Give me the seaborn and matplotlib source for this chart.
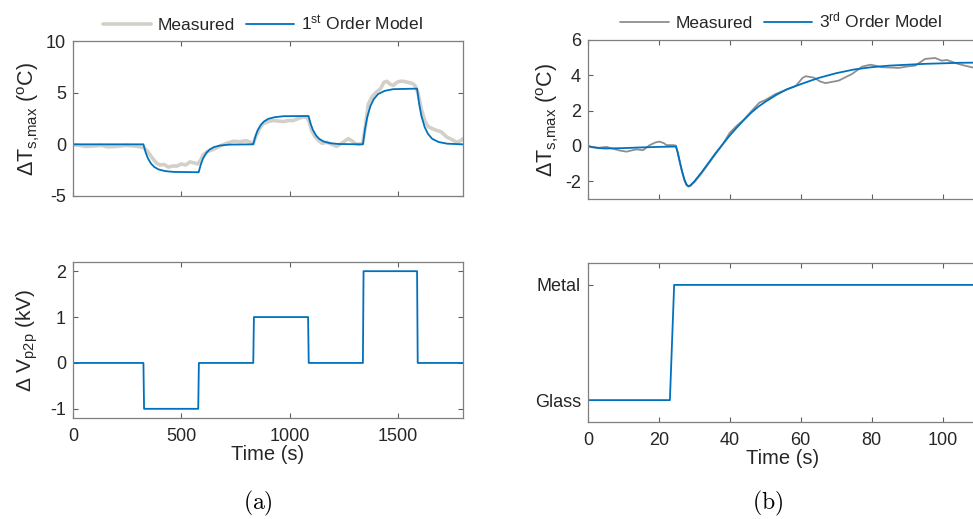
import numpy as np
import pandas as pd
import matplotlib
matplotlib.use("Agg")
import matplotlib.pyplot as plt
import seaborn as sns

# (a) step test: measured surface temperature change vs 1st order model
t_meas_a = [0, 30, 60, 100, 130, 160, 200, 240, 280, 310, 325, 345, 365, 385, 400, 420, 440, 460,
            480, 500, 520, 540, 560, 575, 590, 600, 620, 647, 680, 709, 740, 770, 800, 817, 832,
            845, 860, 878, 900, 924, 950, 971, 995, 1017, 1040, 1063, 1080, 1090, 1101, 1115,
            1132, 1150, 1171, 1195, 1217, 1240, 1260, 1271, 1290, 1302, 1320, 1337, 1350, 1363,
            1380, 1400, 1420, 1435, 1448, 1465, 1478, 1495, 1510, 1525, 1545, 1565, 1578, 1592,
            1600, 1609, 1625, 1640, 1660, 1678, 1700, 1725, 1750, 1771, 1785, 1800]
dT_meas_a = [-0.05, -0.1, -0.2, -0.15, -0.1, -0.25, -0.2, -0.1, -0.15, -0.25, -0.3, -0.7, -1.3,
             -1.8, -2.0, -1.95, -2.2, -2.1, -2.1, -1.9, -2.0, -1.7, -1.8, -1.9, -1.5, -1.05, -0.7,
             -0.5, -0.15, 0.1, 0.3, 0.25, 0.35, 0.2, 0.1, 0.8, 1.5, 2.0, 2.2, 2.3, 2.25, 2.2, 2.3,
             2.3, 2.5, 2.65, 2.6, 2.2, 1.35, 0.8, 0.4, 0.1, 0.2, 0.0, -0.2, 0.1, 0.4, 0.55, 0.3,
             0.07, 0.0, 0.1, 1.8, 3.9, 4.6, 5.05, 5.4, 6.0, 6.1, 5.8, 5.7, 6.0, 6.1, 6.1, 6.0,
             5.9, 5.7, 5.0, 4.2, 3.3, 2.2, 1.7, 1.5, 1.35, 1.2, 0.7, 0.45, 0.2, 0.3, 0.55]

t_model_a = [0, 325, 335, 345, 360, 375, 395, 425, 465, 578,
             580, 590, 600, 615, 630, 650, 680, 720, 830,
             832, 842, 852, 867, 882, 902, 932, 972, 1085,
             1087, 1097, 1107, 1122, 1137, 1157, 1187, 1227, 1337,
             1338, 1348, 1358, 1373, 1388, 1408, 1438, 1478, 1587,
             1588, 1598, 1608, 1623, 1638, 1658, 1688, 1728, 1800]
dT_model_a = [0, 0, -0.76, -1.32, -1.86, -2.19, -2.43, -2.59, -2.67, -2.70,
              -2.70, -1.94, -1.38, -0.84, -0.51, -0.27, -0.11, -0.03, 0,
              0, 0.77, 1.34, 1.89, 2.22, 2.47, 2.63, 2.72, 2.74,
              2.74, 1.97, 1.40, 0.85, 0.52, 0.27, 0.11, 0.03, 0,
              0, 1.51, 2.64, 3.72, 4.37, 4.86, 5.17, 5.34, 5.39,
              5.39, 3.88, 2.75, 1.67, 1.02, 0.53, 0.22, 0.06, 0]

t_volt = [0, 325, 328, 578, 581, 832, 835, 1085, 1088, 1338, 1341, 1588, 1591, 1800]
dV_volt = [0, 0, -1, -1, 0, 0, 1, 1, 0, 0, 2, 2, 0, 0]

# (b) substrate change glass -> metal: measured vs 3rd order model
t_meas_b = [0, 1, 3, 5.2, 7, 9, 10.9, 12.5, 13.7, 15.5, 17.4, 19, 20.2, 21.5, 22.1, 24, 24.8,
            25.3, 25.8, 26.5, 27.2, 27.8, 28.3, 28.8, 30, 32, 34, 36, 38, 40, 42, 44, 46, 48.3,
            50, 53, 56.7, 58.6, 60.5, 61.4, 63.7, 65.5, 67, 70.7, 74.5, 77.3, 79.6, 81, 82.9,
            87.6, 90, 92.3, 95.1, 97.9, 99.8, 101.2, 104.5, 108.1, 110]
dT_meas_b = [0, -0.05, -0.1, -0.05, -0.15, -0.26, -0.32, -0.24, -0.19, -0.24, 0.05, 0.2, 0.25,
             0.15, 0.05, 0.05, 0.02, -0.4, -0.85, -1.45, -1.95, -2.22, -2.3, -2.27, -2.05,
             -1.55, -1.0, -0.45, 0.1, 0.75, 1.15, 1.5, 1.95, 2.45, 2.6, 2.95, 3.25, 3.4, 3.85,
             3.95, 3.87, 3.65, 3.56, 3.7, 4.08, 4.49, 4.6, 4.55, 4.46, 4.42, 4.5, 4.55, 4.93,
             4.98, 4.83, 4.87, 4.64, 4.46, 4.4]

t_model_b = [0, 1, 3, 5, 10, 15, 20, 24.8, 25.3, 25.8, 26.5, 27.2, 27.8, 28.3, 28.8, 30, 32,
             34, 36, 38, 40, 42, 44, 46, 48, 50, 53, 56, 60, 65, 70, 75, 80, 85, 90, 95, 100,
             105, 110]
dT_model_b = [0, -0.06, -0.12, -0.14, -0.12, -0.08, -0.05, -0.03, -0.35, -0.8, -1.4, -1.9,
              -2.18, -2.27, -2.24, -2.0, -1.5, -0.95, -0.4, 0.1, 0.6, 1.05, 1.48, 1.88, 2.22,
              2.5, 2.88, 3.2, 3.5, 3.85, 4.12, 4.33, 4.46, 4.55, 4.6, 4.65, 4.68, 4.71, 4.72]

t_sub = [0, 23.1, 24.3, 110]
substrate = ["Glass", "Glass", "Metal", "Metal"]
substrate_levels = ["Glass", "Metal"]

sns.set_theme(style="white")
plt.rcParams["font.family"] = ["Liberation Sans", "DejaVu Sans"]
plt.rcParams["mathtext.fontset"] = "custom"
plt.rcParams["mathtext.rm"] = "Liberation Sans"
plt.rcParams["mathtext.it"] = "Liberation Sans:italic"
plt.rcParams["mathtext.bf"] = "Liberation Sans:bold"
plt.rcParams["axes.unicode_minus"] = False

BLUE = "#0072BD"
LIGHT = "#d3d0ca"
GREY = "#8f8f8f"
TXT = "#262626"
W, H = 973, 519

fig = plt.figure(figsize=(W / 100, H / 100), dpi=100)


def px_axes(x0, y0, x1, y1):
    return fig.add_axes([x0 / W, 1 - y1 / H, (x1 - x0) / W, (y1 - y0) / H])


def style(ax):
    for sp in ax.spines.values():
        sp.set_color("#7f7f7f")
        sp.set_linewidth(0.9)
    ax.tick_params(direction="in", length=3.5, width=0.8, color="#5f5f5f",
                   bottom=True, left=True, top=True, right=True,
                   labelsize=13, labelcolor=TXT)
    ax.tick_params(axis="x", pad=7)
    ax.tick_params(axis="y", pad=5)


ax1 = px_axes(73, 41, 463, 196)
ax2 = px_axes(73, 262, 463, 418)
ax3 = px_axes(588, 40, 978, 199)
ax4 = px_axes(588, 263, 978, 422)

ylab_T = "ΔT$_{\\rm s{,}max}$ ($^{\\rm o}$C)"

df_ma = pd.DataFrame({"t": t_meas_a, "dT": dT_meas_a})
df_mo = pd.DataFrame({"t": t_model_a, "dT": dT_model_a})
sns.lineplot(data=df_ma, x="t", y="dT", ax=ax1, color=LIGHT, lw=2.6, sort=False,
             estimator=None, label="Measured")
sns.lineplot(data=df_mo, x="t", y="dT", ax=ax1, color=BLUE, lw=1.3, sort=False,
             estimator=None, label="1$^{\\rm st}$ Order Model")
ax1.set_xlim(0, 1800)
ax1.set_ylim(-5, 10)
ax1.set_yticks([-5, 0, 5, 10])
ax1.set_xticks([0, 500, 1000, 1500])
ax1.set_xticklabels([])
ax1.set_xlabel("")
ax1.set_ylabel(ylab_T, fontsize=15.5, color=TXT, labelpad=3)

df_v = pd.DataFrame({"t": t_volt, "dV": dV_volt})
sns.lineplot(data=df_v, x="t", y="dV", ax=ax2, color=BLUE, lw=1.3, sort=False, estimator=None)
ax2.set_xlim(0, 1800)
ax2.set_ylim(-1.2, 2.2)
ax2.set_yticks([-1, 0, 1, 2])
ax2.set_xticks([0, 500, 1000, 1500])
ax2.set_xlabel("Time (s)", fontsize=14.5, color=TXT, labelpad=0)
ax2.set_ylabel("Δ V$_{\\rm p2p}$ (kV)", fontsize=15, color=TXT, labelpad=7)

df_mb = pd.DataFrame({"t": t_meas_b, "dT": dT_meas_b})
df_mob = pd.DataFrame({"t": t_model_b, "dT": dT_model_b})
sns.lineplot(data=df_mb, x="t", y="dT", ax=ax3, color=GREY, lw=1.3, sort=False,
             estimator=None, label="Measured")
sns.lineplot(data=df_mob, x="t", y="dT", ax=ax3, color=BLUE, lw=1.3, sort=False,
             estimator=None, label="3$^{\\rm rd}$ Order Model")
ax3.set_xlim(0, 110)
ax3.set_ylim(-3, 6)
ax3.set_yticks([-2, 0, 2, 4, 6])
ax3.set_xticks([0, 20, 40, 60, 80, 100])
ax3.set_xticklabels([])
ax3.set_xlabel("")
ax3.set_ylabel(ylab_T, fontsize=15.5, color=TXT, labelpad=3)

df_s = pd.DataFrame({"t": t_sub, "s": [substrate_levels.index(s) for s in substrate]})
sns.lineplot(data=df_s, x="t", y="s", ax=ax4, color=BLUE, lw=1.3, sort=False, estimator=None)
ax4.set_xlim(0, 110)
ax4.set_ylim(-0.19, 1.19)
ax4.set_yticks([0, 1])
ax4.set_yticklabels(substrate_levels)
ax4.set_xticks([0, 20, 40, 60, 80, 100])
ax4.set_xlabel("Time (s)", fontsize=14.5, color=TXT, labelpad=0)
ax4.set_ylabel("")

for ax in (ax1, ax2, ax3, ax4):
    style(ax)

ax1.legend(loc="center", bbox_to_anchor=(0.487, 1.116), ncol=2, frameon=False,
           fontsize=12.5, handlelength=2.8, columnspacing=0.6, handletextpad=0.4,
           labelcolor=TXT)
ax3.legend(loc="center", bbox_to_anchor=(0.496, 1.12), ncol=2, frameon=False,
           fontsize=12.5, handlelength=2.8, columnspacing=0.6, handletextpad=0.4,
           labelcolor=TXT)

fig.text(258 / W, 1 - 503 / H, r"$\mathrm{(a)}$", ha="center", va="center",
         fontsize=17, math_fontfamily="cm", color="black")
fig.text(768 / W, 1 - 503 / H, r"$\mathrm{(b)}$", ha="center", va="center",
         fontsize=17, math_fontfamily="cm", color="black")

fig.savefig("out.png", dpi=100)
